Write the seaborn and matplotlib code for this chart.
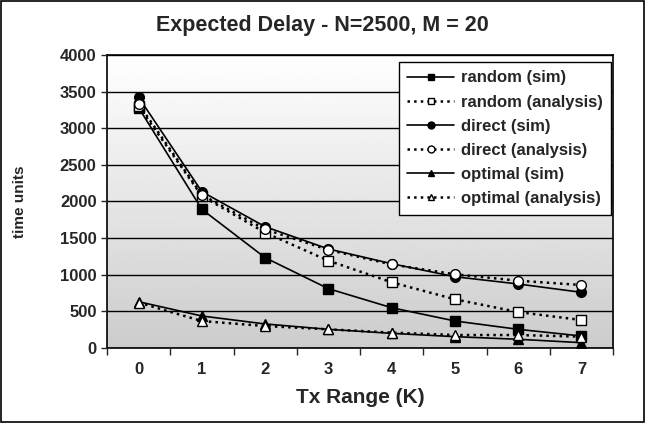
import numpy as np
import pandas as pd
import matplotlib
matplotlib.use("Agg")
import matplotlib.pyplot as plt
import seaborn as sns

tx_range = [0, 1, 2, 3, 4, 5, 6, 7]
random_sim = [3280, 1893, 1233, 810, 550, 369, 255, 164]
random_analysis = [3300, 2075, 1575, 1192, 897, 665, 491, 382]
direct_sim = [3422, 2134, 1656, 1352, 1151, 973, 874, 760]
direct_analysis = [3330, 2090, 1620, 1340, 1140, 1006, 919, 860]
optimal_sim = [632, 437, 328, 255, 200, 155, 119, 73]
optimal_analysis = [620, 368, 300, 255, 210, 177, 177, 155]

series = [
    ("random (sim)", random_sim, "-", "s", "black"),
    ("random (analysis)", random_analysis, ":", "s", "white"),
    ("direct (sim)", direct_sim, "-", "o", "black"),
    ("direct (analysis)", direct_analysis, ":", "o", "white"),
    ("optimal (sim)", optimal_sim, "-", "^", "black"),
    ("optimal (analysis)", optimal_analysis, ":", "^", "white"),
]

sns.set_style("white")
plt.rcParams['font.family'] = ['Liberation Sans', 'DejaVu Sans']
plt.rcParams['font.weight'] = 'bold'

fig = plt.figure(figsize=(6.45, 4.23), dpi=100)
ax = fig.add_axes([0.1659, 0.1773, 0.7845, 0.6927])

# grey gradient background
grad = np.linspace(1.0, 0.80, 256).reshape(-1, 1)
ax.imshow(grad, cmap='gray', vmin=0, vmax=1, aspect='auto',
          extent=[-0.5, 7.5, 0, 4000], origin='upper', zorder=0)

for name, vals, ls, mk, fc in series:
    df = pd.DataFrame({"K": tx_range, "delay": vals})
    sns.lineplot(data=df, x="K", y="delay", ax=ax, label=name, color="black",
                 linestyle=ls, linewidth=1.2 if ls == "-" else 1.8,
                 marker=mk, markersize=7, markerfacecolor=fc,
                 markeredgecolor="black", markeredgewidth=1.0, zorder=3)

ax.set_xlim(-0.5, 7.5)
ax.set_ylim(0, 4000)
ax.set_yticks(range(0, 4001, 500))
ax.set_xticks(tx_range)
ax.set_xticks(np.arange(-0.5, 7.6, 1), minor=True)
ax.tick_params(axis='x', which='major', length=0, pad=10, labelsize=12)
ax.tick_params(axis='x', which='minor', length=5, width=1, direction='out', bottom=True)
ax.tick_params(axis='y', length=4, width=1, direction='out', left=True, labelsize=12)
for lbl in ax.get_xticklabels() + ax.get_yticklabels():
    lbl.set_fontweight('bold')
ax.yaxis.grid(True, color='black', linewidth=1.0, zorder=1)
ax.set_axisbelow(False)
for sp in ax.spines.values():
    sp.set_color('black')
    sp.set_linewidth(1.2)

ax.set_xlabel("Tx Range (K)", fontsize=15, fontweight='bold', labelpad=8)
ax.set_ylabel("time units", fontsize=11, fontweight='bold', labelpad=24)
fig.suptitle("Expected Delay - N=2500, M = 20", fontsize=15.5, fontweight='bold', y=0.965)

leg = ax.legend(loc='upper right', bbox_to_anchor=(0.996, 0.976), borderaxespad=0,
                fancybox=False, framealpha=1, edgecolor='black', fontsize=12,
                handlelength=2.8, borderpad=0.5, labelspacing=0.55, handletextpad=0.4)
for t in leg.get_texts():
    t.set_fontweight('bold')
leg.get_frame().set_linewidth(1.0)
for h in leg.legend_handles:
    h.set_markersize(5)

fig.patches.append(plt.Rectangle((0.002, 0.002), 0.996, 0.996, transform=fig.transFigure,
                                 fill=False, edgecolor='black', linewidth=1.2))

fig.savefig("out.png", dpi=100)
